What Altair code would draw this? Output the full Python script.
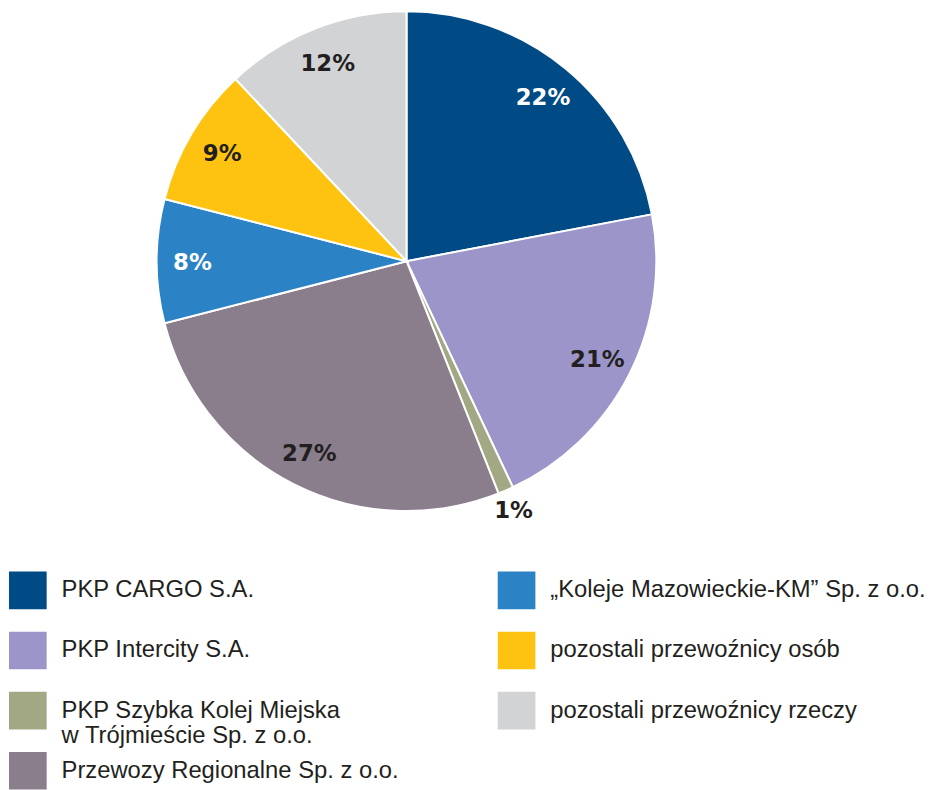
import altair as alt
import pandas as pd

categories = [
    "PKP CARGO S.A.",
    "PKP Intercity S.A.",
    "PKP Szybka Kolej Miejska\nw Trójmieście Sp. z o.o.",
    "Przewozy Regionalne Sp. z o.o.",
    "\u201eKoleje Mazowieckie-KM\u201d Sp. z o.o.",
    "pozostali przewoźnicy osób",
    "pozostali przewoźnicy rzeczy",
]
shares = [22, 21, 1, 27, 8, 9, 12]
labels = ["22%", "21%", "1%", "27%", "8%", "9%", "12%"]
colors = ["#004b85", "#9b95c9", "#a1a883", "#8a7d8c", "#2b83c6", "#fec311", "#d1d3d4"]
legend_col = [0, 0, 0, 0, 1, 1, 1]
legend_row = [0, 1, 2, 3, 0, 1, 2]

df = pd.DataFrame({
    "cat": categories,
    "share": shares,
    "label": labels,
    "order": list(range(len(categories))),
    "col": legend_col,
    "row": legend_row,
})

FONT = "Liberation Sans"
DARK = "#231f20"
CX, CY, R = 402, 252, 252

base = alt.Chart(df)
color_scale = alt.Scale(domain=categories, range=colors)

arc = base.mark_arc(stroke="white", strokeWidth=2, radius=R).encode(
    theta=alt.Theta("share:Q", stack=True),
    order=alt.Order("order:Q"),
    color=alt.Color("cat:N", scale=color_scale, legend=None),
    x=alt.value(CX),
    y=alt.value(CY),
)


def pct_layer(expr, radius):
    return base.transform_calculate(
        txt=expr
    ).mark_text(
        font="DejaVu Sans", fontWeight="bold", fontSize=23,
        align="center", baseline="middle", radius=radius, dy=2,
    ).encode(
        theta=alt.Theta("share:Q", stack=True),
        order=alt.Order("order:Q"),
        text=alt.Text("txt:N"),
        color=alt.condition("datum.order == 0 || datum.order == 4",
                            alt.value("white"), alt.value(DARK)),
        x=alt.value(CX),
        y=alt.value(CY),
    )


pct_in = pct_layer("datum.share < 2 ? '' : datum.label", 216)
pct_out = pct_layer("datum.share < 2 ? datum.label : ''", 272)

xs = alt.Scale(domain=[0, 1], range=[20, 513])
ys = alt.Scale(domain=[0, 3], range=[584, 766])

squares = base.mark_point(shape="square", filled=True, size=1444, opacity=1, strokeWidth=0).encode(
    x=alt.X("col:Q", scale=xs, axis=None),
    y=alt.Y("row:Q", scale=ys, axis=None),
    color=alt.Color("cat:N", scale=color_scale, legend=None),
)

legend_text = base.mark_text(
    align="left", baseline="middle", dx=34, font=FONT, fontSize=24,
    lineBreak="\n", lineHeight=26, color=DARK,
).encode(
    x=alt.X("col:Q", scale=xs, axis=None),
    y=alt.Y("row:Q", scale=ys, axis=None),
    text=alt.Text("cat:N"),
)

chart = alt.layer(arc, pct_in, pct_out, squares, legend_text).properties(
    width=925, height=782, padding=0,
    autosize=alt.AutoSizeParams(type="none"),
).configure_view(stroke=None)

chart.save("out.html", embed_options={"renderer": "svg", "actions": False})
